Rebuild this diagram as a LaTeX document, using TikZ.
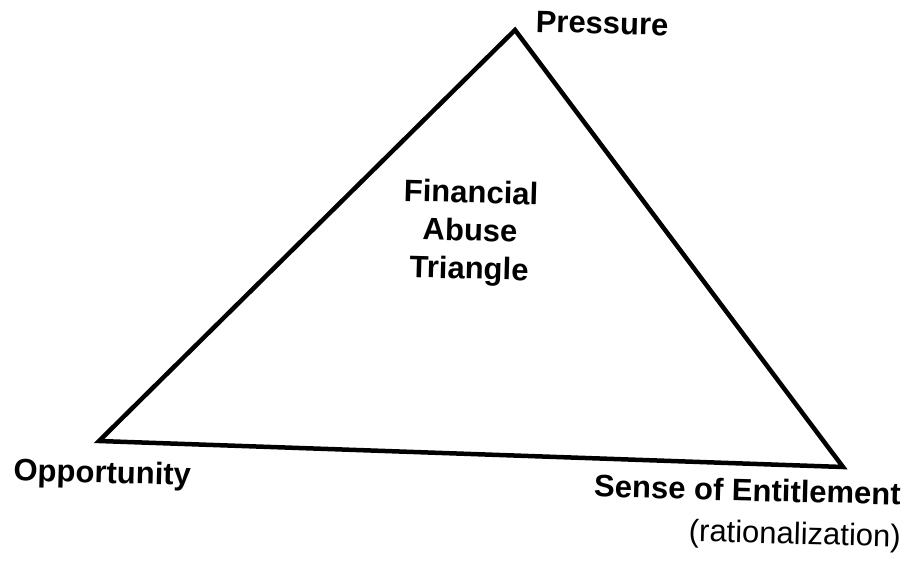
\documentclass[tikz,border=0pt]{standalone}
\usepackage{fontspec}
\setmainfont{Liberation Sans}

\begin{document}
\begin{tikzpicture}[x=1pt, y=-1pt,
    corner/.style={font=\fontsize{31}{37}\selectfont\bfseries, rotate=-1.5},
    side/.style={line width=4.5pt, line join=miter}]
        \useasboundingbox (0,0) rectangle (907,570);

        % Corners of the triangle
        \coordinate (pressure) at (515,30);
        \coordinate (opportunity) at (99,441);
        \coordinate (entitlement) at (843,467);
        \draw[side] (pressure) -- (entitlement) -- (opportunity) -- cycle;

        % Labels
        \node[corner, anchor=base west] (ptext) at (532,32) {Pressure};
        \node[corner, anchor=base] (otext) at (102,483) {Opportunity};
        \node[corner, anchor=base east] (etext) at (904,505) {Sense of Entitlement};
        \node[font=\fontsize{31}{37}\selectfont, rotate=-1.5, anchor=base east] (rtext) at (904,547) {(rationalization)};

        % Title in the middle
        \node[corner, align=center, font=\fontsize{31}{38}\selectfont\bfseries] (title) at (470,233) {Financial\\Abuse\\Triangle};
    \end{tikzpicture}
\end{document}
